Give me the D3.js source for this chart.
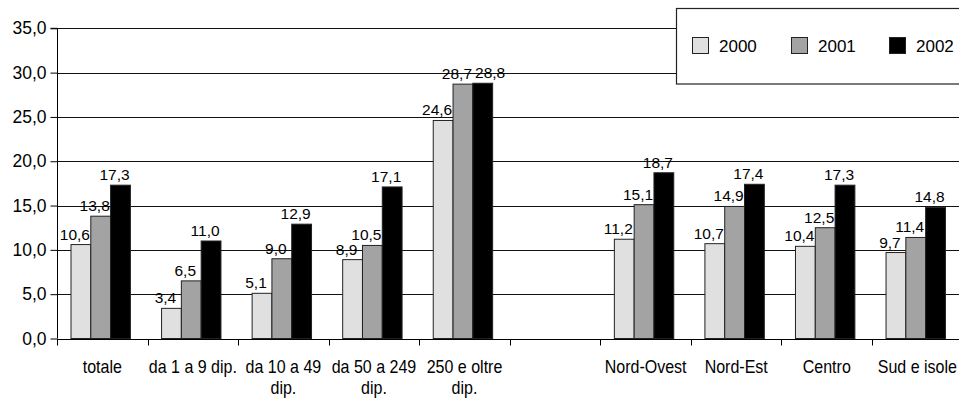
<!DOCTYPE html>
<html>
<head>
<meta charset="utf-8">
<script src="https://cdn.jsdelivr.net/npm/d3@7"></script>
<style>
  html, body { margin: 0; padding: 0; background: #fff; }
  svg { display: block; font-family: "Liberation Sans", Arial, sans-serif; }
</style>
</head>
<body>
<svg id="chart" width="959" height="398"></svg>
<script>
const categories = ["totale", "da 1 a 9 dip.", "da 10 a 49 dip.", "da 50 a 249 dip.", "250 e oltre dip.", "", "Nord-Ovest", "Nord-Est", "Centro", "Sud e isole"];
const years = ["2000", "2001", "2002"];
const values2000 = [10.6, 3.4, 5.1, 8.9, 24.6, null, 11.2, 10.7, 10.4, 9.7];
const values2001 = [13.8, 6.5, 9.0, 10.5, 28.7, null, 15.1, 14.9, 12.5, 11.4];
const values2002 = [17.3, 11.0, 12.9, 17.1, 28.8, null, 18.7, 17.4, 17.3, 14.8];
const yTicks = [0, 5, 10, 15, 20, 25, 30, 35];
const colors = ["#e0e0e0", "#a3a3a3", "#000000"];

const series = [values2000, values2001, values2002];
const locale = d3.formatLocale({decimal: ",", thousands: ".", grouping: [3], currency: ["", "€"]});
const fmt = locale.format(".1f");

const svg = d3.select("#chart");
const mLeft = 57, mRight = 962.6, mTop = 28.3, mBottom = 338.5;

const x = d3.scaleBand().domain(d3.range(categories.length)).range([mLeft, mRight]).paddingInner(0).paddingOuter(0);
const bw = x.bandwidth();
const x1 = d3.scaleBand().domain(years).range([14, 14 + 59.4]).padding(0);
const y = d3.scaleLinear().domain([0, 35]).range([mBottom, mTop]);

const ctx = document.createElement("canvas").getContext("2d");
function measure(t, size) { ctx.font = `${size}px "Liberation Sans"`; return ctx.measureText(t).width; }

// gridlines
svg.append("g").selectAll("line").data(yTicks.filter(d => d > 0)).join("line")
  .attr("x1", mLeft).attr("x2", 959)
  .attr("y1", d => Math.round(y(d)) + 0.5).attr("y2", d => Math.round(y(d)) + 0.5)
  .attr("stroke", "#111").attr("stroke-width", 1);

// bars
const groups = svg.append("g").selectAll("g").data(categories.map((c, i) => i)).join("g")
  .attr("transform", i => `translate(${x(i)},0)`);

groups.selectAll("rect").data(i => years.map((yr, k) => ({yr, k, v: series[k][i]})).filter(d => d.v != null))
  .join("rect")
  .attr("x", d => x1(d.yr))
  .attr("width", x1.bandwidth())
  .attr("y", d => y(d.v))
  .attr("height", d => y(0) - y(d.v))
  .attr("fill", d => colors[d.k])
  .attr("stroke", "#222").attr("stroke-width", 1);

// data labels with simple overlap avoidance
const LBL = 15.5;
groups.each(function(i) {
  const g = d3.select(this);
  let prev = null;
  years.forEach((yr, k) => {
    const v = series[k][i];
    if (v == null) return;
    const s = fmt(v);
    const w = measure(s, LBL);
    let cx = x1(yr) + x1.bandwidth() / 2 - 6;
    const yy = y(v) - 5;
    if (prev && Math.abs(prev.y - yy) < 14 && cx - w / 2 < prev.r + 3) cx = prev.r + 3 + w / 2;
    g.append("text").attr("x", cx).attr("y", yy).attr("text-anchor", "middle")
      .attr("font-size", LBL).attr("fill", "#000").text(s);
    prev = {r: cx + w / 2, y: yy};
  });
});

// y axis
const yAxis = d3.axisLeft(y).tickValues(yTicks).tickSize(7).tickFormat(fmt);
const ya = svg.append("g").attr("transform", `translate(${mLeft + 0.5},0)`).call(yAxis);
ya.select(".domain").attr("stroke", "#000").attr("d", `M-7,${y(35)}H0V${y(0)}`);
ya.selectAll(".tick line").attr("stroke", "#000");
ya.selectAll(".tick text").attr("font-size", 17.5).attr("font-family", "Liberation Sans, Arial, sans-serif").attr("fill", "#000").attr("x", -11);

// x axis
const xa = svg.append("g").attr("transform", `translate(0,${Math.round(mBottom) + 0.5})`);
xa.append("line").attr("x1", mLeft).attr("x2", 959).attr("stroke", "#000");
xa.selectAll("line.tk").data(d3.range(categories.length)).join("line").attr("class", "tk")
  .attr("x1", i => Math.round(x(i)) + 0.5).attr("x2", i => Math.round(x(i)) + 0.5)
  .attr("y1", 0).attr("y2", 6).attr("stroke", "#000");

const XS = 18, XSX = 0.89;
function wrap(label, maxW) {
  const words = label.split(" ");
  const lines = [];
  let cur = "";
  words.forEach(w => {
    const t = cur ? cur + " " + w : w;
    if (measure(t, XS) * XSX > maxW && cur) { lines.push(cur); cur = w; }
    else cur = t;
  });
  if (cur) lines.push(cur);
  return lines;
}

const xl = svg.append("g");
categories.forEach((c, i) => {
  if (!c) return;
  const lines = wrap(c, 92);
  lines.forEach((ln, j) => {
    xl.append("text")
      .attr("transform", `translate(${x(i) + bw / 2},${373 + j * 21}) scale(${XSX},1)`)
      .attr("text-anchor", "middle").attr("font-size", XS).attr("fill", "#000").text(ln);
  });
});

// legend
const lg = svg.append("g");
lg.append("rect").attr("x", 676.5).attr("y", 8.5).attr("width", 300).attr("height", 75.5)
  .attr("fill", "#fff").attr("stroke", "#222").attr("stroke-width", 1.2);
const legX = [692, 791, 889];
years.forEach((yr, k) => {
  lg.append("rect").attr("x", legX[k] + 0.5).attr("y", 37.5).attr("width", 16).attr("height", 16)
    .attr("fill", colors[k]).attr("stroke", "#222");
  lg.append("text").attr("x", legX[k] + 27).attr("y", 52).attr("font-size", 17).attr("fill", "#000").text(yr);
});
</script>
</body>
</html>
